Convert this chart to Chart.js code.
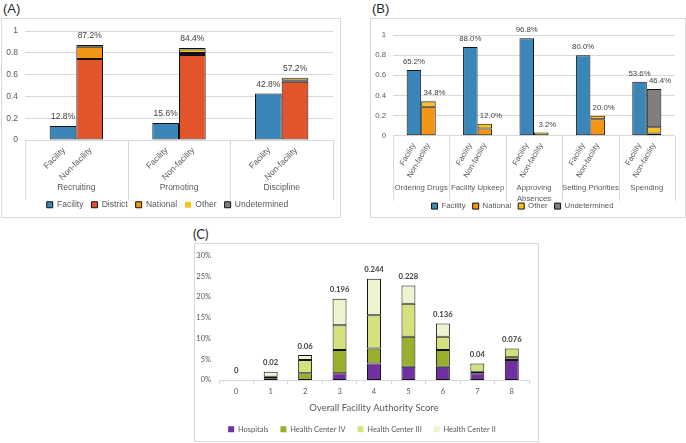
<!DOCTYPE html>
<html>
<head>
<meta charset="utf-8">
<script src="https://cdn.jsdelivr.net/npm/chart.js@4.4.0/dist/chart.umd.min.js"></script>
<style>
  body { margin: 0; background: #fff; width: 686px; height: 443px; position: relative; overflow: hidden; font-family: 'Liberation Sans', Arial, sans-serif; }
  .tag { position: absolute; font-size: 13px; color: #262626; }
  .frame { position: absolute; border: 1px solid #d9d9d9; box-sizing: border-box; }
  .box { position: absolute; }
</style>
</head>
<body>
<div class="tag" style="left:3px;top:1px;">(A)</div>
<div class="tag" style="left:372px;top:1px;">(B)</div>
<div class="tag" style="left:193px;top:226px;font-family:Lato,sans-serif;">(C)</div>

<div class="frame" style="left:1px;top:18px;width:340px;height:200px;"></div>
<div class="frame" style="left:370px;top:18px;width:316px;height:200px;"></div>
<div class="frame" style="left:194px;top:243px;width:345px;height:199px;"></div>

<div class="box" style="left:2px;top:19px;width:338px;height:200px;"><canvas id="chartA"></canvas></div>
<div class="box" style="left:370px;top:18px;width:315px;height:202px;"><canvas id="chartB"></canvas></div>
<div class="box" style="left:195px;top:243px;width:343px;height:200px;"><canvas id="chartC"></canvas></div>

<script>
// (A) quién decide sobre el personal
const groupsA = ['Recruiting', 'Promoting', 'Discipline'];
const subLabels = ['Facility', 'Non-facility'];
const aFacility = [0.128, 0.156, 0.428];
const aDistrict = [0.744, 0.78, 0.536];
const aNational = [0.112, 0.02, 0.008];
const aOther = [0, 0.032, 0.024];
const aUndetermined = [0.016, 0.012, 0.004];

// (B)
const groupsB = ['Ordering Drugs', 'Facility Upkeep', ['Approving', 'Absences'], 'Setting Priorities', 'Spending'];
const bFacility = [0.652, 0.88, 0.968, 0.80, 0.536];
const bNational = [0.288, 0.072, 0, 0.164, 0.024];
const bOther = [0.052, 0.048, 0.032, 0.036, 0.06];
const bUndetermined = [0.008, 0, 0, 0, 0.38];

const yTicksAB = [0, 0.2, 0.4, 0.6, 0.8, 1];

// (C)
const scores = ['0', '1', '2', '3', '4', '5', '6', '7', '8'];
const hospitals = [0, 0, 0, 0.016, 0.04, 0.032, 0.032, 0.016, 0.048];
const hcIV = [0, 0.004, 0.016, 0.056, 0.036, 0.072, 0.04, 0.004, 0.008];
const hcIII = [0, 0.004, 0.032, 0.06, 0.08, 0.08, 0.032, 0.02, 0.02];
const hcII = [0, 0.012, 0.012, 0.064, 0.088, 0.044, 0.032, 0, 0];
const yTicksC = [0, 0.05, 0.1, 0.15, 0.2, 0.25, 0.3];

Chart.defaults.font.family = "'Liberation Sans', Arial, sans-serif";
Chart.defaults.color = '#595959';
Chart.defaults.animation = false;

function bar(label, data, color, stack) {
    return {
        label: label,
        data: data,
        backgroundColor: color,
        borderColor: '#111',
        borderWidth: c => (c.type === 'data' && !c.raw) ? 0 : 1,
        borderSkipped: false,
        stack: stack
    };
}

// eje con grupos + etiquetas giradas + porcentajes
const groupAxis = {
    id: 'groupAxis',
    afterDatasetsDraw(chart, args, o) {
        const ctx = chart.ctx;
        const x = chart.scales.x, y = chart.scales.y;
        const area = chart.chartArea;
        const n = chart.data.labels.length;
        const step = (x.right - x.left) / n;
        ctx.save();
        ctx.strokeStyle = '#d9d9d9';
        ctx.lineWidth = 1;
        for (let i = 0; i <= n; i++) {
            const px = Math.round(x.left + i * step) + 0.5;
            ctx.beginPath();
            ctx.moveTo(px, area.bottom);
            ctx.lineTo(px, area.bottom + o.sepLength);
            ctx.stroke();
        }
        ctx.font = o.font;
        const metas = [chart.getDatasetMeta(0), chart.getDatasetMeta(1)];
        const ds = chart.data.datasets;
        for (let i = 0; i < n; i++) {
            ctx.fillStyle = '#595959';
            metas.forEach((m, k) => {
                ctx.save();
                ctx.translate(m.data[i].x + o.subDx, area.bottom + o.subDy);
                ctx.rotate(-o.angle * Math.PI / 180);
                ctx.textAlign = 'right';
                ctx.textBaseline = 'middle';
                ctx.fillText(subLabels[k], 0, 0);
                ctx.restore();
            });
            ctx.textAlign = 'center';
            ctx.textBaseline = 'middle';
            [].concat(chart.data.labels[i]).forEach((line, k) => {
                ctx.fillText(line, x.getPixelForValue(i), area.bottom + o.groupDy + k * o.lineH);
            });
            // totales
            const totF = ds[0].data[i];
            let totN = 0;
            for (let d = 1; d < ds.length; d++) totN += ds[d].data[i];
            ctx.fillStyle = '#404040';
            ctx.textBaseline = 'middle';
            ctx.fillText((totF * 100).toFixed(1) + '%', metas[0].data[i].x, y.getPixelForValue(totF) - o.valDy);
            ctx.fillText((totN * 100).toFixed(1) + '%', metas[1].data[i].x + o.nfDx, y.getPixelForValue(totN) - o.valDy);
        }
        ctx.restore();
    }
};

function abOptions(fontSize, xHeight, pad, ga) {
    return {
        responsive: true,
        maintainAspectRatio: false,
        layout: { padding: pad },
        plugins: {
            legend: {
                position: 'bottom',
                labels: { boxWidth: 6, boxHeight: 6, padding: ga.legendPad, font: { size: fontSize }, color: '#595959' }
            },
            tooltip: { enabled: false },
            groupAxis: ga
        },
        scales: {
            x: {
                stacked: true,
                ticks: { display: false },
                grid: { display: false },
                border: { display: false },
                afterFit: s => { s.height = xHeight; }
            },
            y: {
                stacked: true,
                min: 0,
                max: 1,
                afterBuildTicks: s => { s.ticks = yTicksAB.map(v => ({ value: v })); },
                afterFit: s => { s.width = 23; },
                ticks: { padding: 7, font: { size: fontSize }, color: '#595959', callback: v => String(Number(v.toFixed(1))) },
                grid: { color: '#d9d9d9', drawTicks: false },
                border: { display: false }
            }
        }
    };
}

new Chart(document.getElementById('chartA'), {
    type: 'bar',
    data: {
        labels: groupsA,
        datasets: [
            Object.assign(bar('Facility', aFacility, '#3b86b8', 'F'), { categoryPercentage: 0.52, barPercentage: 1 }),
            Object.assign(bar('District', aDistrict, '#e4542b', 'N'), { categoryPercentage: 0.52, barPercentage: 1 }),
            Object.assign(bar('National', aNational, '#f39512', 'N'), { categoryPercentage: 0.52, barPercentage: 1 }),
            Object.assign(bar('Other', aOther, '#f6c21c', 'N'), { categoryPercentage: 0.52, barPercentage: 1 }),
            Object.assign(bar('Undetermined', aUndetermined, '#7f7f7f', 'N'), { categoryPercentage: 0.52, barPercentage: 1 })
        ]
    },
    options: abOptions(8.5, 52.5, { left: 0, right: 7, top: 10, bottom: 0 },
        { font: "8.5px 'Liberation Sans', Arial, sans-serif", sepLength: 60, subDx: 1, subDy: 9, angle: 45,
          groupDy: 48, lineH: 11, valDy: 9, nfDx: 0, legendPad: 8 }),
    plugins: [groupAxis]
});

new Chart(document.getElementById('chartB'), {
    type: 'bar',
    data: {
        labels: groupsB,
        datasets: [
            Object.assign(bar('Facility', bFacility, '#3b86b8', 'F'), { categoryPercentage: 0.515, barPercentage: 1 }),
            Object.assign(bar('National', bNational, '#f39512', 'N'), { categoryPercentage: 0.515, barPercentage: 1 }),
            Object.assign(bar('Other', bOther, '#f6c21c', 'N'), { categoryPercentage: 0.515, barPercentage: 1 }),
            Object.assign(bar('Undetermined', bUndetermined, '#7f7f7f', 'N'), { categoryPercentage: 0.515, barPercentage: 1 })
        ]
    },
    options: abOptions(7.8, 59.4, { left: 0, right: 10, top: 17, bottom: 0 },
        { font: "7.8px 'Liberation Sans', Arial, sans-serif", sepLength: 65, subDx: 0, subDy: 8, angle: 60,
          groupDy: 52, lineH: 11, valDy: 8, nfDx: 6, legendPad: 7 }),
    plugins: [groupAxis]
});

// totales encima de las barras de (C)
const totalsC = {
    id: 'totalsC',
    afterDatasetsDraw(chart) {
        const ctx = chart.ctx, y = chart.scales.y;
        const ds = chart.data.datasets;
        const meta = chart.getDatasetMeta(0);
        ctx.save();
        ctx.font = "bold 7.7px Lato, sans-serif";
        ctx.fillStyle = '#404040';
        ctx.textAlign = 'center';
        ctx.textBaseline = 'middle';
        chart.data.labels.forEach((l, i) => {
            let t = 0;
            ds.forEach(d => { t += d.data[i]; });
            ctx.fillText(String(Number(t.toFixed(3))), meta.data[i].x, y.getPixelForValue(t) - 9);
        });
        ctx.restore();
    }
};

const cOpts = { categoryPercentage: 0.45, barPercentage: 0.9 };
new Chart(document.getElementById('chartC'), {
    type: 'bar',
    data: {
        labels: scores,
        datasets: [
            Object.assign(bar('Hospitals', hospitals, '#7030a0', 'S'), cOpts),
            Object.assign(bar('Health Center IV', hcIV, '#9aae2c', 'S'), cOpts),
            Object.assign(bar('Health Center III', hcIII, '#d5e17d', 'S'), cOpts),
            Object.assign(bar('Health Center II', hcII, '#eef2cf', 'S'), cOpts)
        ]
    },
    options: {
        responsive: true,
        maintainAspectRatio: false,
        layout: { padding: { left: 0, right: 9, top: 10, bottom: 0 } },
        plugins: {
            legend: {
                position: 'bottom',
                labels: { boxWidth: 6, boxHeight: 6, padding: 12, font: { family: 'Lato', size: 7.5 }, color: '#595959' }
            },
            tooltip: { enabled: false }
        },
        scales: {
            x: {
                stacked: true,
                ticks: { padding: 3, font: { family: 'Lato', size: 7.5 }, color: '#595959' },
                grid: { drawOnChartArea: false, offset: true, tickLength: 4, color: '#d9d9d9' },
                border: { display: true, color: '#d9d9d9' },
                title: { display: true, text: 'Overall Facility Authority Score', font: { family: 'Lato', size: 9.5 }, color: '#595959', padding: { top: 8, bottom: 0 } },
                afterFit: s => { s.height = 33.5; }
            },
            y: {
                stacked: true,
                min: 0,
                max: 0.3,
                afterBuildTicks: s => { s.ticks = yTicksC.map(v => ({ value: v })); },
                afterFit: s => { s.width = 24; },
                ticks: { padding: 8, font: { family: 'Lato', size: 7.5 }, color: '#595959', callback: v => Math.round(v * 100) + '%' },
                grid: { display: false, drawTicks: false },
                border: { display: false }
            }
        }
    },
    plugins: [totalsC]
});
</script>
</body>
</html>
